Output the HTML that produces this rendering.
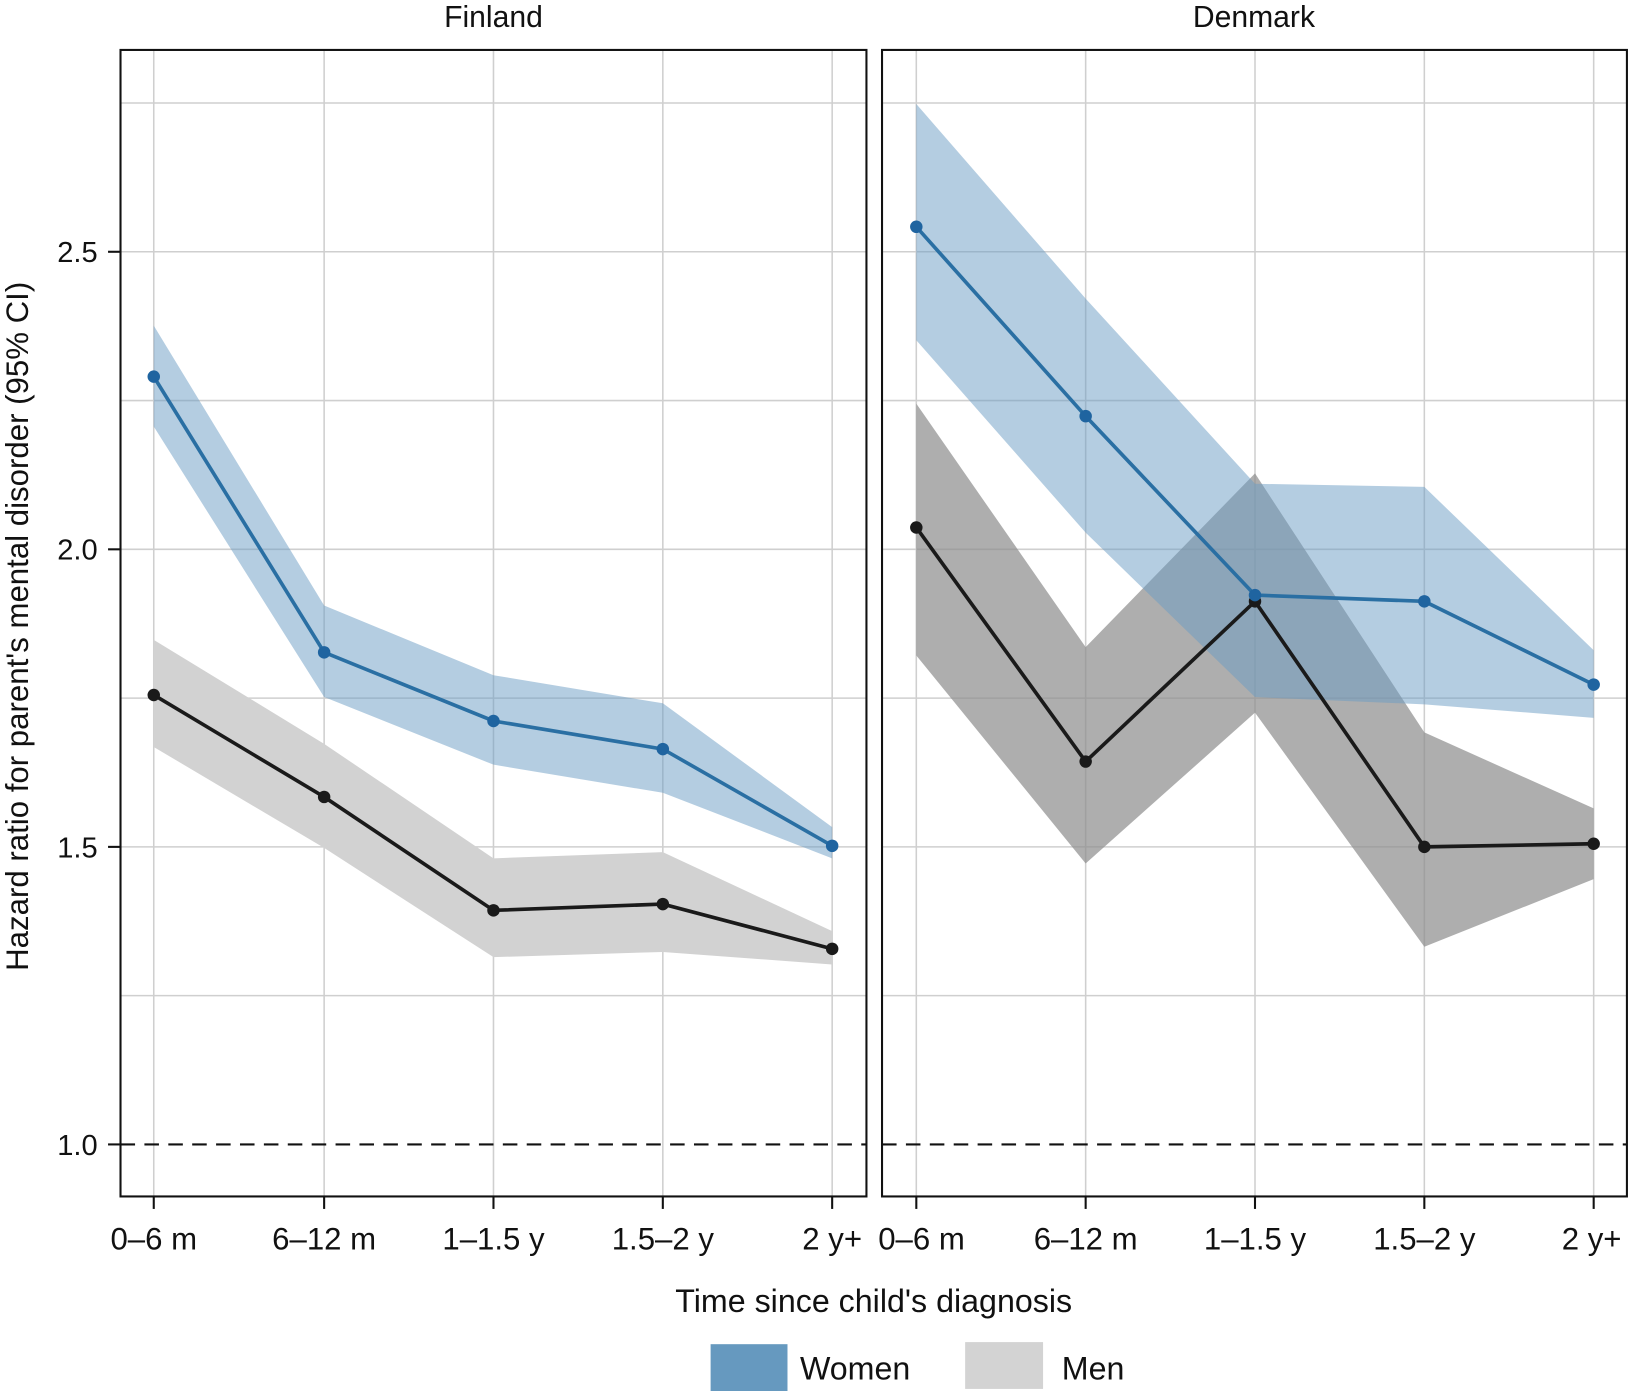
<!DOCTYPE html>
<html><head><meta charset="utf-8"><style>
html,body{margin:0;padding:0;background:#fff}
svg{display:block}
text{font-family:"Liberation Sans",sans-serif;fill:#111}
</style></head><body>
<svg width="1629" height="1391" viewBox="0 0 1568 1337" preserveAspectRatio="none" xmlns="http://www.w3.org/2000/svg">
<rect width="1568" height="1337" fill="#fff"/>
<text x="475" y="26" font-size="29" text-anchor="middle">Finland</text>
<text x="1207" y="26" font-size="29" text-anchor="middle">Denmark</text>
<g stroke="#cfcfcf" stroke-width="1.5">
<line x1="116" x2="834" y1="99" y2="99"/><line x1="116" x2="834" y1="242" y2="242"/><line x1="116" x2="834" y1="385" y2="385"/><line x1="116" x2="834" y1="528" y2="528"/><line x1="116" x2="834" y1="671" y2="671"/><line x1="116" x2="834" y1="814" y2="814"/><line x1="116" x2="834" y1="957" y2="957"/>
<line x1="849" x2="1566" y1="99" y2="99"/><line x1="849" x2="1566" y1="242" y2="242"/><line x1="849" x2="1566" y1="385" y2="385"/><line x1="849" x2="1566" y1="528" y2="528"/><line x1="849" x2="1566" y1="671" y2="671"/><line x1="849" x2="1566" y1="814" y2="814"/><line x1="849" x2="1566" y1="957" y2="957"/>
<line x1="148" x2="148" y1="48" y2="1150"/><line x1="312" x2="312" y1="48" y2="1150"/><line x1="475" x2="475" y1="48" y2="1150"/><line x1="638" x2="638" y1="48" y2="1150"/><line x1="801" x2="801" y1="48" y2="1150"/>
<line x1="882" x2="882" y1="48" y2="1150"/><line x1="1045" x2="1045" y1="48" y2="1150"/><line x1="1208" x2="1208" y1="48" y2="1150"/><line x1="1371" x2="1371" y1="48" y2="1150"/><line x1="1534" x2="1534" y1="48" y2="1150"/>
</g>
<g stroke="#111" stroke-width="2" stroke-dasharray="14,9">
<line x1="116" x2="834" y1="1100" y2="1100"/><line x1="849" x2="1566" y1="1100" y2="1100"/>
</g>
<polygon points="148,615 312,715 475,825 638,819 801,895 801,927 638,915 475,920 312,815 148,718" fill="#d2d2d2"/>
<polygon points="148,313 312,582 475,649 638,676 801,795 801,825 638,762 475,735 312,670 148,410" fill="#6a9cc4" fill-opacity="0.5"/>
<polyline points="148,668 312,766 475,875 638,869 801,912" fill="none" stroke="#1a1a1a" stroke-width="3.5"/>
<polyline points="148,362 312,627 475,693 638,720 801,813" fill="none" stroke="#2a6fa3" stroke-width="3.5"/>
<polygon points="882,388 1045,622 1208,455 1371,704 1534,777 1534,845 1371,910 1208,685 1045,830 882,630" fill="#8c8c8c" fill-opacity="0.7"/>
<polygon points="882,100 1045,287 1208,465 1371,468 1534,625 1534,690 1371,677 1208,670 1045,512 882,327" fill="#6a9cc4" fill-opacity="0.5"/>
<polyline points="882,507 1045,732 1208,578 1371,814 1534,811" fill="none" stroke="#1a1a1a" stroke-width="3.5"/>
<polyline points="882,218 1045,400 1208,572 1371,578 1534,658" fill="none" stroke="#2a6fa3" stroke-width="3.5"/>
<g fill="#1a1a1a">
<circle cx="148" cy="668" r="6"/><circle cx="312" cy="766" r="6"/><circle cx="475" cy="875" r="6"/><circle cx="638" cy="869" r="6"/><circle cx="801" cy="912" r="6"/>
<circle cx="882" cy="507" r="6"/><circle cx="1045" cy="732" r="6"/><circle cx="1208" cy="578" r="6"/><circle cx="1371" cy="814" r="6"/><circle cx="1534" cy="811" r="6"/>
</g>
<g fill="#1f64a0">
<circle cx="148" cy="362" r="6"/><circle cx="312" cy="627" r="6"/><circle cx="475" cy="693" r="6"/><circle cx="638" cy="720" r="6"/><circle cx="801" cy="813" r="6"/>
<circle cx="882" cy="218" r="6"/><circle cx="1045" cy="400" r="6"/><circle cx="1208" cy="572" r="6"/><circle cx="1371" cy="578" r="6"/><circle cx="1534" cy="658" r="6"/>
</g>
<g fill="none" stroke="#111" stroke-width="2">
<rect x="116" y="48" width="718" height="1102"/>
<rect x="849" y="48" width="717" height="1102"/>
<line x1="104" x2="116" y1="242" y2="242"/><line x1="104" x2="116" y1="528" y2="528"/><line x1="104" x2="116" y1="814" y2="814"/><line x1="104" x2="116" y1="1100" y2="1100"/>
<line x1="148" x2="148" y1="1150" y2="1162"/><line x1="312" x2="312" y1="1150" y2="1162"/><line x1="475" x2="475" y1="1150" y2="1162"/><line x1="638" x2="638" y1="1150" y2="1162"/><line x1="801" x2="801" y1="1150" y2="1162"/>
<line x1="882" x2="882" y1="1150" y2="1162"/><line x1="1045" x2="1045" y1="1150" y2="1162"/><line x1="1208" x2="1208" y1="1150" y2="1162"/><line x1="1371" x2="1371" y1="1150" y2="1162"/><line x1="1534" x2="1534" y1="1150" y2="1162"/>
</g>
<g font-size="28" text-anchor="end">
<text x="94" y="252">2.5</text><text x="94" y="538">2.0</text><text x="94" y="824">1.5</text><text x="94" y="1110">1.0</text>
</g>
<g font-size="30" text-anchor="middle">
<text x="148" y="1201">0–6 m</text><text x="312" y="1201">6–12 m</text><text x="475" y="1201">1–1.5 y</text><text x="638" y="1201">1.5–2 y</text><text x="801" y="1201">2 y+</text>
<text x="887" y="1201">0–6 m</text><text x="1045" y="1201">6–12 m</text><text x="1208" y="1201">1–1.5 y</text><text x="1371" y="1201">1.5–2 y</text><text x="1532" y="1201">2 y+</text>
</g>
<text x="841" y="1261" font-size="31" text-anchor="middle">Time since child's diagnosis</text>
<text transform="translate(27,602) rotate(-90)" font-size="30" text-anchor="middle">Hazard ratio for parent's  mental disorder (95% CI)</text>
<rect x="684" y="1292" width="74" height="45" fill="#6699bf"/>
<text x="770" y="1326" font-size="31">Women</text>
<rect x="929" y="1290" width="75" height="45" fill="#d3d3d3"/>
<text x="1022" y="1326" font-size="31">Men</text>
</svg>
</body></html>
